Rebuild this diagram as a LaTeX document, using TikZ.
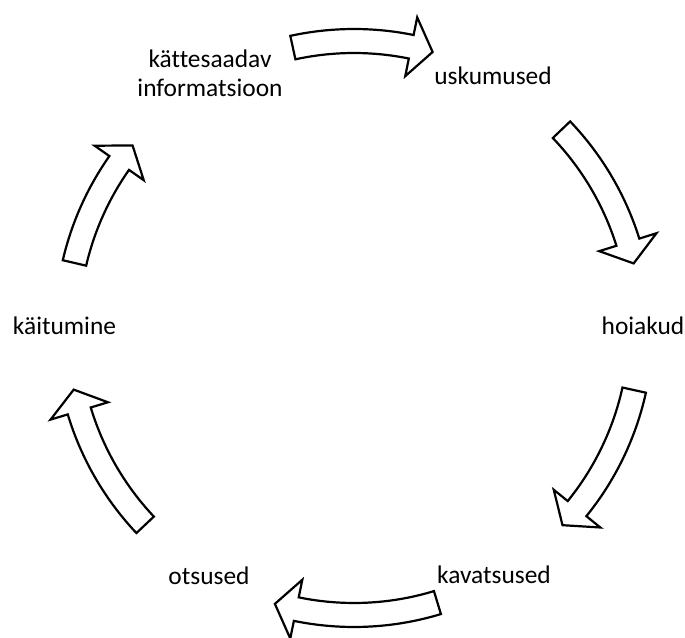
\documentclass[tikz,border=0pt]{standalone}
\usepackage{fontspec}
\setmainfont{Carlito}[Ligatures=CommonOff]
\begin{document}
\begin{tikzpicture}[x=0.5pt,y=0.5pt,font=\fontsize{12.7}{14.5}\selectfont]
	\pgfmathsetmacro\R{287}
	\pgfmathsetmacro\Ro{\R+12}
	\pgfmathsetmacro\Ri{\R-12}
	\pgfmathsetmacro\Hout{\R+30}
	\pgfmathsetmacro\Hin{\R-30}
	\coordinate (M) at (354,309);
	\useasboundingbox (0,0) rectangle (685,637);
	\tikzset{nool/.style={draw=black,line width=1.1pt,fill=white,shift={(M)}},
		silt/.style={anchor=base,inner sep=0pt,align=center}}

	\draw[nool] (102.3:\Ro) arc[start angle=102.3,end angle=78.5,radius=\Ro] -- (78.5:\Hout) -- (74.1:\R) -- (78.5:\Hin) -- (78.5:\Ri) arc[start angle=78.5,end angle=102.3,radius=\Ri] -- cycle;
	\draw[nool] (43.7:\Ro) arc[start angle=43.7,end angle=17.4,radius=\Ro] -- (17.4:\Hout) -- (13.0:\R) -- (17.4:\Hin) -- (17.4:\Ri) arc[start angle=17.4,end angle=43.7,radius=\Ri] -- cycle;
	\draw[nool] (-12.5:\Ro) arc[start angle=-12.5,end angle=-39.0,radius=\Ro] -- (-39.0:\Hout) -- (-43.4:\R) -- (-39.0:\Hin) -- (-39.0:\Ri) arc[start angle=-39.0,end angle=-12.5,radius=\Ri] -- cycle;
	\draw[nool] (-73.1:\Ro) arc[start angle=-73.1,end angle=-101.6,radius=\Ro] -- (-101.6:\Hout) -- (-106.0:\R) -- (-101.6:\Hin) -- (-101.6:\Ri) arc[start angle=-101.6,end angle=-73.1,radius=\Ri] -- cycle;
	\draw[nool] (-136.7:\Ro) arc[start angle=-136.7,end angle=-163.2,radius=\Ro] -- (-163.2:\Hout) -- (-167.6:\R) -- (-163.2:\Hin) -- (-163.2:\Ri) arc[start angle=-163.2,end angle=-136.7,radius=\Ri] -- cycle;
	\draw[nool] (166.9:\Ro) arc[start angle=166.9,end angle=144.9,radius=\Ro] -- (144.9:\Hout) -- (140.5:\R) -- (144.9:\Hin) -- (144.9:\Ri) arc[start angle=144.9,end angle=166.9,radius=\Ri] -- cycle;

	\node[silt] (info) at (210,540) {kättesaadav\\informatsioon};
	\node[silt] (usk) at (493,552) {uskumused};
	\node[silt] (hoi) at (643,302) {hoiakud};
	\node[silt] (kav) at (494,54) {kavatsused};
	\node[silt] (ots) at (209,53) {otsused};
	\node[silt] (kai) at (64.5,302) {käitumine};
\end{tikzpicture}
\end{document}
